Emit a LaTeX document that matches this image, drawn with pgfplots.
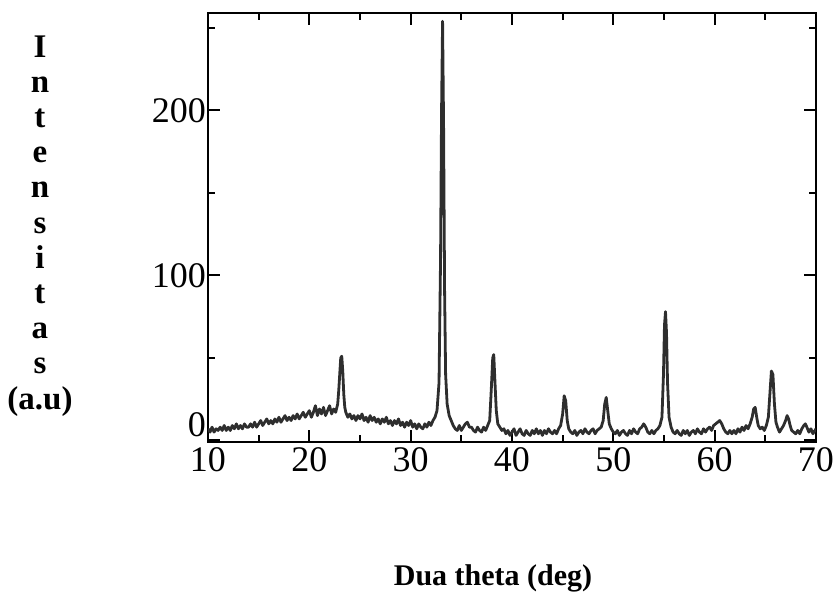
\documentclass[border=0pt]{standalone}
\usepackage{fontspec}
\setmainfont{Liberation Serif}
\usepackage{pgfplots}
\pgfplotsset{compat=1.18}
\begin{document}
\begin{tikzpicture}
\path[use as bounding box] (-104pt,-77pt) rectangle (314pt,221pt);
\begin{axis}[
 at={(0,0)}, anchor=south west, scale only axis,
 width=304pt, height=214.5pt,
 xmin=10, xmax=70, ymin=-1, ymax=259,
 xtick={10,20,...,70}, minor xtick={15,25,...,65},
 ytick={100,200}, minor ytick={50,150,250},
 extra y ticks={0},
 extra y tick style={yticklabel style={yshift=8pt}},
 tick align=inside, major tick length=6pt, minor tick length=3.5pt,
 axis line style={line width=1pt},
 every tick/.style={black, line width=0.9pt},
 tick label style={font=\fontsize{18}{19}\selectfont},
 /pgf/number format/assume math mode=true,
 yticklabel style={xshift=2.5pt},
 xticklabel style={yshift=1pt},
 every axis x label/.style={at={(rel axis cs:0,0)}, anchor=center, xshift=142.5pt, yshift=-68pt, font=\bfseries\fontsize{15}{16}\selectfont},
 every axis y label/.style={at={(rel axis cs:0,0)}, anchor=center, xshift=-84pt, yshift=108pt, font=\bfseries\fontsize{16.5}{17.6}\selectfont},
 xlabel={Dua theta (deg)},
 ylabel={\begin{tabular}{@{}c@{}}I\\n\\t\\e\\n\\s\\i\\t\\a\\s\\(a.u)\end{tabular}},
]
\addplot[black!82, line width=1.4pt, line join=round, no marks] coordinates {
(10.0,7) (10.2,5) (10.4,8) (10.6,5) (10.8,7) (11.0,6) (11.2,8) (11.4,6) (11.6,9) (11.8,6)
(12.0,8) (12.2,6) (12.4,9) (12.6,7) (12.8,10) (13.0,7) (13.2,9) (13.4,7) (13.6,10) (13.8,8)
(14.0,8) (14.2,10) (14.4,8) (14.6,11) (14.8,8) (15.0,10) (15.2,12) (15.4,9) (15.6,11) (15.8,13)
(16.0,10) (16.2,12) (16.4,10) (16.6,13) (16.8,11) (17.0,14) (17.2,11) (17.4,13) (17.6,15) (17.8,12)
(18.0,14) (18.2,12) (18.4,15) (18.6,13) (18.8,16) (19.0,13) (19.2,15) (19.4,17) (19.6,14) (19.8,16)
(20.0,18) (20.2,14) (20.4,17) (20.6,21) (20.8,15) (21.0,19) (21.2,16) (21.4,20) (21.6,15) (21.8,18)
(22.0,21) (22.2,16) (22.4,19) (22.6,17) (22.8,22) (22.9,30) (23.0,40) (23.1,50) (23.2,51) (23.3,42)
(23.4,28) (23.5,20) (23.6,17) (23.8,14) (24.0,16) (24.2,13) (24.4,15) (24.6,12) (24.8,15) (25.0,13)
(25.2,16) (25.4,12) (25.6,14) (25.8,11) (26.0,15) (26.2,12) (26.4,14) (26.6,11) (26.8,13) (27.0,10)
(27.2,13) (27.4,11) (27.6,14) (27.8,10) (28.0,12) (28.2,9) (28.4,12) (28.6,10) (28.8,13) (29.0,9)
(29.2,11) (29.4,8) (29.6,11) (29.8,9) (30.0,12) (30.2,8) (30.4,10) (30.6,7) (30.8,10) (31.0,8)
(31.2,7) (31.4,10) (31.6,8) (31.8,11) (32.0,9) (32.2,12) (32.4,14) (32.6,18) (32.8,35) (32.95,110)
(33.05,200) (33.15,254) (33.25,190) (33.35,90) (33.45,40) (33.6,22) (33.8,15) (34.0,12) (34.2,9) (34.4,7)
(34.6,6) (34.8,9) (35.0,6) (35.2,8) (35.4,10) (35.6,11) (35.8,8) (36.0,8) (36.2,6) (36.4,5)
(36.6,8) (36.8,6) (37.0,5) (37.2,8) (37.4,6) (37.6,9) (37.8,12) (37.95,30) (38.1,50) (38.2,52)
(38.3,38) (38.45,18) (38.6,10) (38.8,8) (39.0,6) (39.2,7) (39.4,4) (39.6,6) (39.8,3) (40.0,5)
(40.2,7) (40.4,3) (40.6,5) (40.8,7) (41.0,4) (41.2,3) (41.4,6) (41.6,4) (41.8,3) (42.0,6)
(42.2,4) (42.4,7) (42.6,4) (42.8,6) (43.0,3) (43.2,6) (43.4,4) (43.6,7) (43.8,5) (44.0,4)
(44.2,6) (44.4,4) (44.6,7) (44.8,9) (45.0,16) (45.15,27) (45.3,24) (45.45,12) (45.6,7) (45.8,5)
(46.0,4) (46.2,6) (46.4,3) (46.6,5) (46.8,6) (47.0,4) (47.2,7) (47.4,5) (47.6,4) (47.8,6)
(48.0,7) (48.2,4) (48.4,6) (48.6,7) (48.8,8) (49.0,12) (49.15,22) (49.3,26) (49.45,18) (49.6,10)
(49.8,7) (50.0,5) (50.2,4) (50.4,6) (50.6,3) (50.8,5) (51.0,6) (51.2,4) (51.4,3) (51.6,6)
(51.8,4) (52.0,7) (52.2,5) (52.4,4) (52.6,7) (52.8,8) (53.0,10) (53.2,8) (53.4,5) (53.6,4)
(53.8,6) (54.0,4) (54.2,6) (54.4,7) (54.6,9) (54.8,14) (54.95,40) (55.05,70) (55.15,78) (55.25,65)
(55.35,35) (55.5,14) (55.7,8) (55.9,5) (56.1,4) (56.3,6) (56.5,4) (56.7,3) (56.9,6) (57.1,4)
(57.3,6) (57.5,3) (57.7,5) (57.9,6) (58.1,4) (58.3,7) (58.5,5) (58.7,4) (58.9,7) (59.1,5)
(59.3,7) (59.5,8) (59.7,6) (59.9,9) (60.1,10) (60.3,11) (60.5,12) (60.7,10) (60.9,7) (61.1,5)
(61.3,4) (61.5,6) (61.7,4) (61.9,6) (62.1,4) (62.3,7) (62.5,5) (62.7,8) (62.9,6) (63.1,9)
(63.3,7) (63.5,10) (63.7,14) (63.85,19) (64.0,20) (64.15,14) (64.3,9) (64.5,7) (64.7,8) (64.9,6)
(65.1,9) (65.3,14) (65.45,28) (65.6,42) (65.75,40) (65.9,22) (66.05,11) (66.2,8) (66.4,5) (66.6,7)
(66.8,9) (67.0,12) (67.15,15) (67.3,13) (67.45,9) (67.6,6) (67.8,5) (68.0,4) (68.2,6) (68.4,4)
(68.6,7) (68.8,9) (68.95,10) (69.1,8) (69.3,5) (69.5,7) (69.7,4) (69.9,6) (70.0,7)
};
\end{axis}
\end{tikzpicture}
\end{document}
